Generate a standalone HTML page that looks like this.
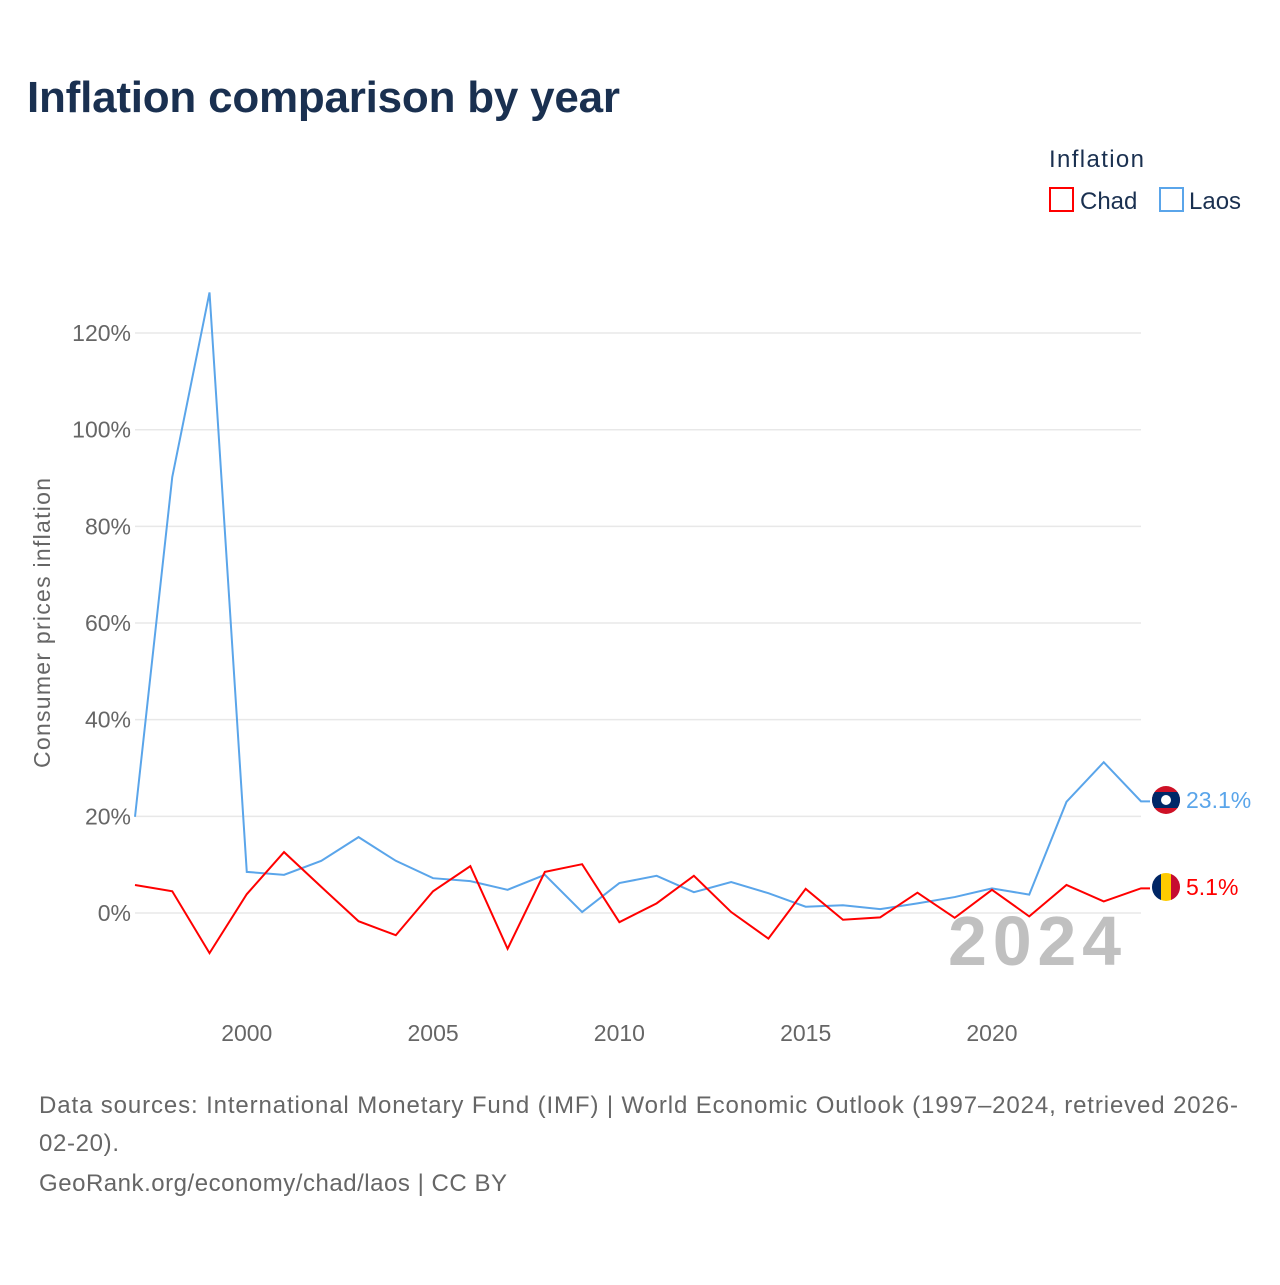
<!DOCTYPE html>
<html><head><meta charset="utf-8"><style>
body{margin:0;background:#fff;font-family:"Liberation Sans",sans-serif;}
svg text{font-family:"Liberation Sans",sans-serif;}
</style></head><body>
<svg width="1280" height="1280" viewBox="0 0 1280 1280" xmlns="http://www.w3.org/2000/svg" id="chart">
<rect width="1280" height="1280" fill="#fff"/>
<text x="27" y="112" font-size="44" font-weight="bold" fill="#1a3050" textLength="593">Inflation comparison by year</text>
<g>
<text x="1049" y="167" font-size="24" fill="#1a3050" textLength="95">Inflation</text>
<g><rect x="1050" y="188" width="23" height="23" fill="none" stroke="#ff0000" stroke-width="2"/><text x="1080" y="209" font-size="24" fill="#1a3050">Chad</text></g>
<g><rect x="1160" y="188" width="23" height="23" fill="none" stroke="#5aa5ea" stroke-width="2"/><text x="1189" y="209" font-size="24" fill="#1a3050">Laos</text></g>
</g>
<g id="grid"></g>
<g id="yticks"></g>
<g id="xticks"></g>
<text transform="translate(50,623) rotate(-90)" text-anchor="middle" font-size="23" fill="#666" textLength="290">Consumer prices inflation</text>
<text x="948" y="965" font-size="70" font-weight="bold" fill="#c0c0c0" textLength="173">2024</text>
<g id="series"></g>
<g>
<clipPath id="c1"><circle cx="1166" cy="800" r="14"/></clipPath>
<g clip-path="url(#c1)"><rect x="1150" y="784" width="32" height="32" fill="#ce1126"/><rect x="1150" y="792" width="32" height="16" fill="#002868"/><circle cx="1166" cy="800" r="5" fill="#fff"/></g>
</g>
<g>
<clipPath id="c2"><circle cx="1166" cy="887" r="14"/></clipPath>
<g clip-path="url(#c2)"><rect x="1150" y="871" width="11" height="32" fill="#002664"/><rect x="1161" y="871" width="10" height="32" fill="#fecb00"/><rect x="1171" y="871" width="12" height="32" fill="#c60c30"/></g>
</g>
<text x="1186" y="808" font-size="23" fill="#5aa5ea">23.1%</text>
<text x="1186" y="895" font-size="23" fill="#ff0000">5.1%</text>
<g font-size="24" fill="#666">
<text x="39" y="1113" textLength="1199">Data sources: International Monetary Fund (IMF) | World Economic Outlook (1997–2024, retrieved 2026-</text>
<text x="39" y="1151" textLength="80">02-20).</text>
<text x="39" y="1191" textLength="468">GeoRank.org/economy/chad/laos | CC BY</text>
</g>
</svg>
<script>
const years=[1997,1998,1999,2000,2001,2002,2003,2004,2005,2006,2007,2008,2009,2010,2011,2012,2013,2014,2015,2016,2017,2018,2019,2020,2021,2022,2023,2024];
const chad=[5.8,4.5,-8.3,3.9,12.6,5.4,-1.7,-4.6,4.5,9.7,-7.4,8.5,10.1,-1.9,2.0,7.7,0.2,-5.3,5.0,-1.4,-0.9,4.2,-1.0,4.8,-0.7,5.8,2.4,5.1];
const laos=[19.9,90.2,128.4,8.5,7.9,10.8,15.7,10.8,7.2,6.6,4.8,7.9,0.2,6.2,7.7,4.3,6.4,4.1,1.3,1.6,0.8,2.0,3.3,5.1,3.8,23.0,31.2,23.1];
const yTicks=[0,20,40,60,80,100,120];
const xTicks=[2000,2005,2010,2015,2020];
const NS="http://www.w3.org/2000/svg";
const x=v=>135+(v-1997)*(1141-135)/27;
const y=v=>913-v*4.833;
const grid=document.getElementById('grid'),yt=document.getElementById('yticks'),xt=document.getElementById('xticks'),se=document.getElementById('series');
yTicks.forEach(t=>{
 const l=document.createElementNS(NS,'line');
 
 
 l.setAttribute('x1',135);l.setAttribute('x2',1141);l.setAttribute('y1',y(t));l.setAttribute('y2',y(t));
 l.setAttribute('stroke','#e8e8e8');l.setAttribute('stroke-width','1.5');grid.appendChild(l);
 const tx=document.createElementNS(NS,'text');
 
 
 tx.setAttribute('x',131);tx.setAttribute('y',y(t)+8);tx.setAttribute('text-anchor','end');tx.setAttribute('font-size','23');tx.setAttribute('fill','#666');
 tx.textContent=t+'%';yt.appendChild(tx);
});
xTicks.forEach(t=>{
 const tx=document.createElementNS(NS,'text');
 
 
 tx.setAttribute('x',x(t));tx.setAttribute('y',1041);tx.setAttribute('text-anchor','middle');tx.setAttribute('font-size','23');tx.setAttribute('fill','#666');
 tx.textContent=t;xt.appendChild(tx);
});
function line(vals,color,name){
 const p=document.createElementNS(NS,'polyline');
 
 
 p.setAttribute('points',vals.map((v,i)=>x(years[i])+','+y(v)).join(' ')+' '+(1150)+','+y(vals[vals.length-1]));
 p.setAttribute('fill','none');p.setAttribute('stroke',color);p.setAttribute('stroke-width','2');p.setAttribute('stroke-linejoin','miter');
 se.appendChild(p);
}
line(laos,'#5aa5ea','laos-line');
line(chad,'#ff0000','chad-line');
</script>
</body></html>
